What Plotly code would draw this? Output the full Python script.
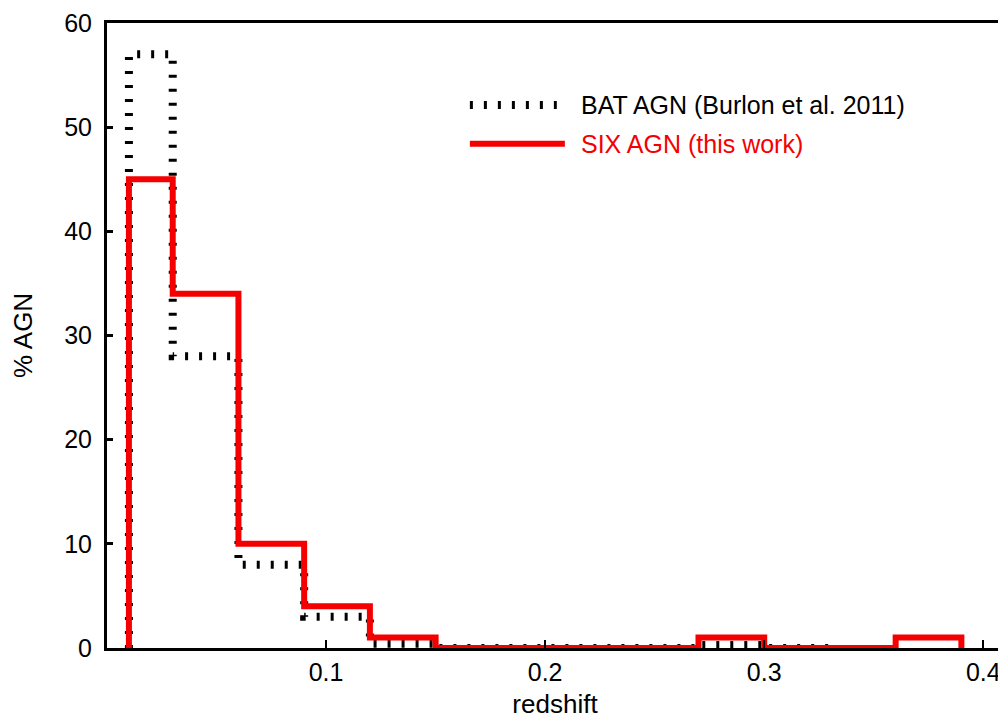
import plotly.graph_objects as go

# Bin edges (redshift) and histogram values (% AGN)
six_edges = [0.01, 0.03, 0.06, 0.09, 0.12, 0.15, 0.18, 0.21, 0.24, 0.27, 0.30, 0.33, 0.36, 0.39]
six_values = [45, 34, 10, 4, 1, 0, 0, 0, 0, 1, 0, 0, 1]

bat_edges = [0.01, 0.03, 0.06, 0.09, 0.12, 0.15, 0.18, 0.21, 0.24, 0.27, 0.30, 0.33]
bat_values = [57, 28, 8, 3, 0.4, 0, 0, 0, 0, 0.3, 0]

x_ticks = [0.1, 0.2, 0.3, 0.4]
y_ticks = [0, 10, 20, 30, 40, 50, 60]

RED = "rgb(245,0,0)"
FONT = "Liberation Sans, Arial, sans-serif"


def step_xy(edges, values):
    # hv step: start on baseline, walk each bin, return to baseline
    xs = [edges[0]] + list(edges[:-1]) + [edges[-1]]
    ys = [0] + list(values) + [0]
    return xs, ys


bx, by = step_xy(bat_edges, bat_values)
sx, sy = step_xy(six_edges, six_values)

fig = go.Figure()
fig.add_trace(go.Scatter(
    x=bx, y=by, mode="lines", line_shape="hv",
    line=dict(color="black", width=8, dash="3px,11px"),
    name="BAT AGN (Burlon et al. 2011)", showlegend=False, hoverinfo="skip",
))
fig.add_trace(go.Scatter(
    x=sx, y=sy, mode="lines", line_shape="hv",
    line=dict(color=RED, width=6),
    name="SIX AGN (this work)", showlegend=False, hoverinfo="skip",
))

# Manual legend (long line samples as in the original)
fig.add_shape(type="line", xref="paper", yref="paper",
              x0=0.405, x1=0.502, y0=0.869, y1=0.869,
              line=dict(color="black", width=8, dash="3px,11px"))
fig.add_shape(type="line", xref="paper", yref="paper",
              x0=0.405, x1=0.511, y0=0.807, y1=0.807,
              line=dict(color=RED, width=6))
fig.add_annotation(xref="paper", yref="paper", x=0.527, y=0.869,
                   xanchor="left", yanchor="middle", showarrow=False,
                   text="BAT AGN (Burlon et al. 2011)",
                   font=dict(family=FONT, size=25, color="black"))
fig.add_annotation(xref="paper", yref="paper", x=0.527, y=0.807,
                   xanchor="left", yanchor="middle", showarrow=False,
                   text="SIX AGN (this work)",
                   font=dict(family=FONT, size=25, color=RED))

# page body has an 8px default margin, so the figure is sized to fit the window
fig.update_layout(
    width=998, height=711,
    margin=dict(l=99, r=3, t=15, b=71),
    paper_bgcolor="white", plot_bgcolor="white",
    font=dict(family=FONT, color="black"),
    showlegend=False,
)
fig.update_xaxes(
    range=[0, 0.409], tickvals=x_ticks, ticktext=[str(v) for v in x_ticks],
    ticks="inside", ticklen=8, tickwidth=2, tickcolor="black",
    showline=True, linewidth=3, linecolor="black", mirror=True,
    showgrid=False, zeroline=False, automargin=False, ticklabeloverflow="allow",
    tickfont=dict(family=FONT, size=25),
    title=dict(text="redshift", font=dict(family=FONT, size=26), standoff=10),
)
fig.update_yaxes(
    range=[0, 60], tickvals=y_ticks,
    ticks="inside", ticklen=6, tickwidth=3, tickcolor="black",
    showline=True, linewidth=3, linecolor="black", mirror=True,
    showgrid=False, zeroline=False, automargin=False, ticklabelstandoff=7,
    ticklabeloverflow="allow",
    tickfont=dict(family=FONT, size=25),
    title=dict(text="% AGN", font=dict(family=FONT, size=26), standoff=25),
)

fig.write_html("out.html")
